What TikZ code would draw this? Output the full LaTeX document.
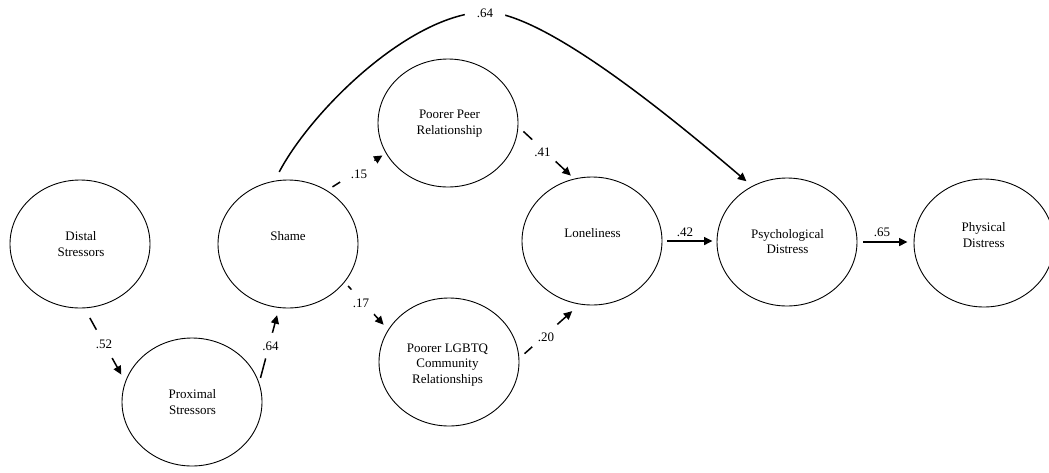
\documentclass[tikz,border=0pt]{standalone}
\usepackage{fontspec}
\setmainfont{Liberation Serif}
\usetikzlibrary{shapes.geometric,arrows.meta}
\begin{document}
\begin{tikzpicture}[x=1pt,y=-1pt,
  ell/.style={ellipse,draw,line width=0.9pt,minimum width=140pt,minimum height=128pt,inner sep=0pt},
  txt/.style={align=center,font=\fontsize{13}{15.5}\selectfont,inner sep=0pt},
  lbl/.style={circle,fill=white,inner sep=#1,font=\fontsize{13}{15.5}\selectfont},
  lbltop/.style={inner sep=0pt,font=\fontsize{13}{15.5}\selectfont},
  arr/.style={line width=1.5pt,-{Triangle[length=8.5pt,width=8pt]}}]
\useasboundingbox (0,0) rectangle (1049,472);
% latent variables
\node[ell] (dist)   at (80,244)  {};
\node[ell] (prox)   at (192,402) {};
\node[ell] (shame)  at (288,244) {};
\node[ell] (peer)   at (448,123) {};
\node[ell] (lgbtq)  at (449,362) {};
\node[ell] (lonely) at (592,241) {};
\node[ell] (psych)  at (787,242) {};
\node[ell] (phys)   at (984,243) {};
% texts
\node[txt] (distT)   at (81,244)    {Distal\\Stressors};
\node[txt] (proxT)   at (192.5,402) {Proximal\\Stressors};
\node[txt] (shameT)  at (288,236)   {Shame};
\node[txt] (peerT)   at (449.5,123.5) {Poorer Peer\\Relationship};
\node[txt] (lgbtqT)  at (447.5,365) {Poorer LGBTQ\\Community\\Relationships};
\node[txt] (lonelyT) at (592.5,233) {Loneliness};
\node[txt] (psychT)  at (787.5,241.5) {Psychological\\Distress};
\node[txt] (physT)   at (983.7,235) {Physical\\Distress};
% paths
\draw[arr,shorten <=11pt,shorten >=8pt] (dist.-86) -- (prox.163);
\draw[arr,shorten <=5pt,shorten >=7.5pt] (prox.16) -- (shame.-98);
\draw[arr,shorten <=6.5pt,shorten >=4pt] (shame.54) -- (peer.-154);
\draw[arr,shorten <=7pt,shorten >=4.5pt] (peer.-3.5) -- (lonely.106);
\draw[arr,shorten <=5pt,shorten >=6.6pt] (shame.-34.6) -- (lgbtq.152);
\draw[arr,shorten <=7pt,shorten >=10pt] (lgbtq.3.5) -- (lonely.-101.7);
\draw[arr,shorten <=5pt,shorten >=4pt] (lonely.east) -- (lonely.east -| psych.west);
\draw[arr,shorten <=6pt,shorten >=6pt] (psych.east) -- (psych.east -| phys.west);
\coordinate (top) at (485,12);
\draw[arr,shorten <=10pt,shorten >=7.4pt] (shame.102) .. controls (312,110) and (410,14) .. (top)
   .. controls (545,12) and (678,123) .. (psych.122.7);
% coefficients
\node[lbl=5pt] (c52) at (104,344) {.52};
\node[lbl=3pt] (c64a) at (270.5,346) {.64};
\node[lbl=8pt] (c15) at (359,174) {.15};
\node[lbl=5pt] (c41) at (542.5,152) {.41};
\node[lbl=5.5pt] (c17) at (361,303.5) {.17};
\node[lbl=5.5pt] (c20) at (546,337) {.20};
\node[lbl=8pt] (c64b) at (485,13) {.64};
\node[lbltop] (c42) at (685,232) {.42};
\node[lbltop] (c65) at (882,232) {.65};
\end{tikzpicture}
\end{document}
